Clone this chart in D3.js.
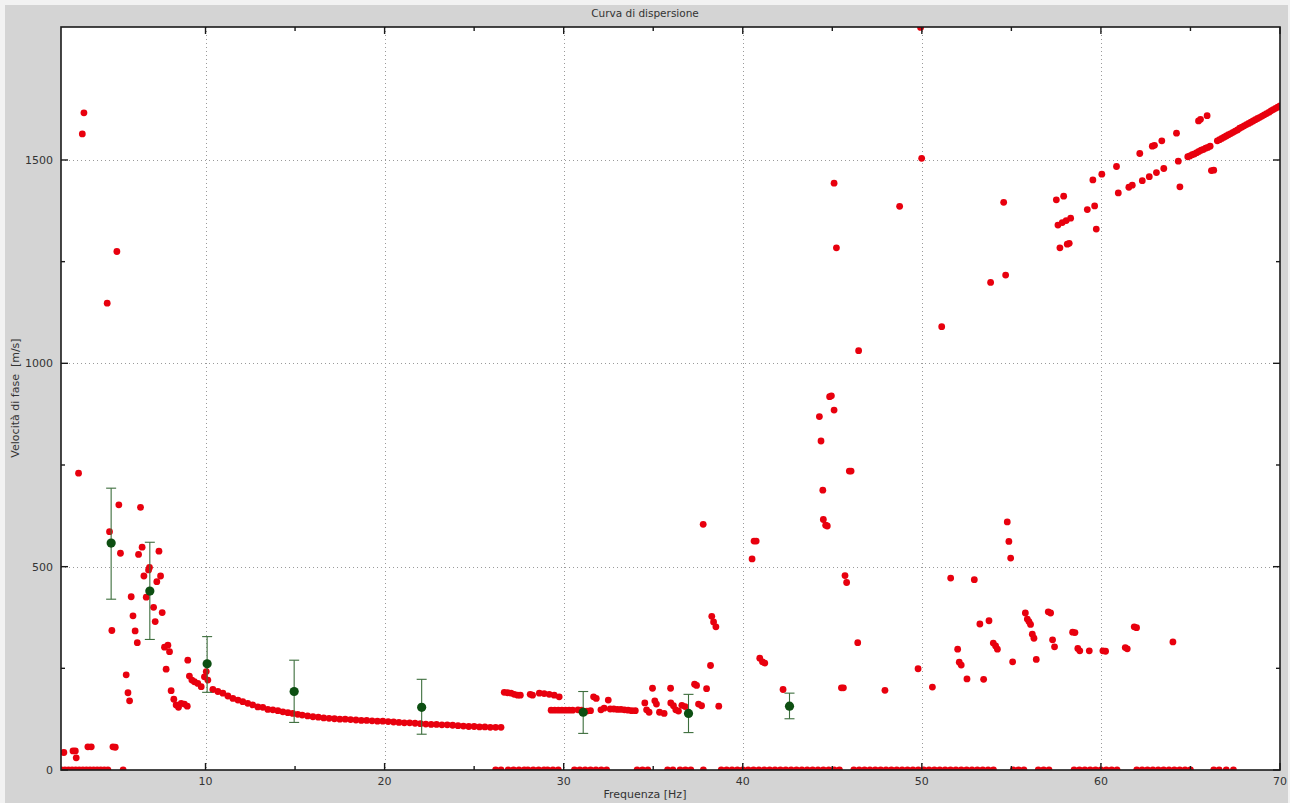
<!DOCTYPE html>
<html><head><meta charset="utf-8">
<script src="https://cdn.jsdelivr.net/npm/d3@7/dist/d3.min.js"></script>
<style>body{margin:0;background:#fff;overflow:hidden} text{white-space:pre}</style>
</head><body>
<svg id="c" width="1290" height="803"></svg>
<script>
// ---------------- DATA ----------------
const titleText = "Curva di dispersione";
const xLabelText = "Frequenza [Hz]";
const yLabelText = "Velocità di fase  [m/s]";
const xMajorTicks = [10, 20, 30, 40, 50, 60, 70];
const xMinorTicks = [15, 25, 35, 45, 55, 65];
const yMajorTicks = [0, 500, 1000, 1500];
const yMinorTicks = [250, 750, 1250];

// main branch (dense) frequency / velocity
const curveF = [10.41,10.69,10.97,11.25,11.53,11.81,12.08,12.36,12.64,12.92,13.20,13.48,13.76,14.04,14.32,14.60,14.87,15.15,15.4,15.7,16.0,16.3,16.6,16.9,17.2,17.5,17.8,18.1,18.4,18.7,19.0,19.3,19.6,19.9,20.2,20.5,20.8,21.1,21.4,21.7,22.0,22.3,22.6,22.9,23.2,23.5,23.8,24.1,24.4,24.7,25.0,25.3,25.6,25.9,26.2,26.5];
const curveV = [198,193,189,182,176,172,168,164,160,155,154,149,148,146,143,141,139,137,135,133,131,130,128,127,126,125,125,124,123,122,122,121,120,120,119,118,117,116,116,115,114,113,112,112,111,111,110,109,108,107,107,106,106,105,105,105];

// high branch at the right end
const lineF = [64.85,64.97,65.1,65.22,65.35,65.47,65.6,65.72,65.85,65.97,66.1,
 66.5,66.625,66.75,66.875,67.0,67.125,67.25,67.375,67.5,67.625,67.75,67.875,68.0,68.125,68.25,68.375,68.5,68.625,68.75,68.875,69.0,69.125,69.25,69.375,69.5,69.625,69.75,69.875,70.0];
const lineV = [1508,1510,1513,1515,1518,1521,1524,1526,1529,1531,1534,
 1547,1550,1553,1556,1559,1562,1565,1568,1571,1574,1578,1581,1584,1587,1590,1593,1596,1599,1602,1605,1608,1611,1614,1617,1621,1624,1627,1630,1633];

// scattered picks
const scatterF = [2.09,2.60,2.73,2.78,3.43,3.62,4.83,4.96,2.91,3.21,3.12,4.51,5.05,5.16,6.37,4.64,5.25,6.46,6.26,7.40,6.87,6.82,6.56,7.49,7.28,6.69,5.85,7.10,5.95,7.58,7.19,6.07,4.77,6.19,7.71,7.90,7.99,9.01,7.80,5.57,5.67,5.76,8.08,8.23,8.36,8.49,8.64,8.82,8.98,9.10,9.24,9.38,9.57,9.76,9.94,10.04,10.13,
 26.68,26.87,27.06,27.24,27.43,27.58,28.13,28.26,28.64,28.91,29.19,29.47,29.75,
 29.3,29.5,29.7,29.9,30.1,30.3,30.5,30.8,31.0,31.3,31.5,
 31.67,31.82,32.08,32.26,32.49,32.6,32.8,33.0,33.2,33.4,33.6,33.8,34.0,
 34.53,34.63,34.77,34.96,35.09,35.18,35.35,35.61,35.97,35.98,36.13,36.26,36.41,36.6,36.78,37.31,37.42,37.53,37.70,37.79,37.98,38.2,38.27,38.37,38.50,38.66,
 40.52,40.63,40.75,40.95,41.10,41.23,42.25,
 44.28,44.37,44.47,44.5,44.63,44.72,44.85,44.95,45.10,45.10,45.23,45.51,45.62,45.71,45.80,45.95,46.05,46.42,46.47,47.94,48.76,
 49.79,49.93,49.99,50.59,51.11,51.61,52.0,52.09,52.2,52.52,52.93,53.24,53.45,53.75,53.84,53.99,54.12,54.22,54.57,54.68,54.77,54.86,54.96,55.07,55.78,55.89,55.98,56.07,56.17,56.26,56.39,57.06,57.19,57.30,57.41,58.42,58.55,58.71,58.82,59.35,60.11,60.26,61.36,61.47,61.86,61.99,64.02,
 57.51,57.92,57.6,57.84,58.06,58.31,57.71,58.12,58.23,59.24,59.65,59.55,59.74,60.05,60.87,60.97,61.56,61.75,62.17,62.31,62.70,62.87,62.99,63.10,63.40,63.51,64.22,64.32,64.41,65.45,65.56,65.93,66.17,66.30];
const scatterV = [43,47,47,30,57,57,57,56,730,1616,1564,1148,1275,652,646,586,533,548,530,538,498,492,477,477,463,425,426,400,379,387,365,342,343,313,302,307,291,270,248,234,190,170,195,174,160,154,164,162,157,231,221,217,213,205,229,242,221,
 191,190,189,186,184,184,186,184,189,188,186,184,180,
 147,147,147,147,147,147,147,148,147,145,146,
 180,176,148,152,172,150,150,149,149,148,147,146,146,
 165,148,142,201,170,162,142,139,201,165,158,148,145,159,156,211,208,162,158,604,200,257,378,364,352,157,
 519,563,563,275,266,263,198,
 869,809,688,616,602,600,918,920,885,1443,1284,202,202,478,461,735,735,313,1031,196,1386,
 249,1826,1504,204,1090,472,297,265,258,224,468,359,223,367,1199,312,305,297,1396,1217,610,562,521,266,386,371,365,358,334,324,272,389,386,320,303,339,338,299,293,293,293,292,301,298,352,350,315,
 1402,1411,1340,1346,1351,1357,1284,1293,1295,1378,1387,1451,1330,1465,1484,1419,1433,1438,1516,1449,1459,1534,1536,1469,1547,1479,1566,1497,1434,1596,1600,1609,1474,1475];

// picks at zero velocity
const zeroF = [1.95,2.15,2.35,2.55,2.75,2.95,3.15,3.35,3.55,3.75,3.95,4.15,4.35,4.55,5.4,
 26.2,26.5,26.9,27.2,27.5,27.8,28.0,28.3,28.6,28.9,29.1,29.4,29.7,
 30.6,30.9,31.2,31.5,31.8,32.1,32.4,34.1,34.4,34.7,35.8,36.1,36.5,36.8,37.1,37.8,
 38.8,39.1,39.4,39.7,40.0,40.3,40.6,40.9,41.2,41.5,41.8,42.1,42.4,42.7,43.0,43.3,43.6,43.9,44.2,44.5,44.8,45.1,45.4,
 46.2,46.5,46.8,47.1,47.4,47.7,48.0,48.3,48.6,48.9,49.2,49.5,49.8,50.1,50.4,50.7,51.0,51.3,51.6,51.9,52.2,52.5,52.8,53.1,53.4,53.7,54.0,
 55.1,55.4,55.7,56.5,56.8,57.1,58.5,58.8,59.1,59.4,59.7,60.0,60.3,60.6,60.9,
 62.0,62.3,62.6,62.9,63.2,63.5,63.8,64.1,64.4,64.7,65.0,66.3,66.6,67.0,67.4];

// mean dispersion curve with error bars
const meanF = [4.73, 6.89, 10.09, 14.95, 22.07, 31.09, 36.97, 42.61];
const meanV = [558, 440, 261, 193, 154, 142, 139, 157];
const errHigh = [693, 560, 328, 270, 223, 193, 186, 189];
const errLow = [420, 321, 191, 117, 88, 90, 92, 126];

// ---------------- DRAW ----------------
const W = 1290, H = 803;
const L = 61, T = 27, R = 1280, B = 770;
const svg = d3.select("#c");
const font = "DejaVu Sans, Verdana, sans-serif";

svg.append("rect").attr("x",0).attr("y",0).attr("width",W).attr("height",H).attr("fill","#f2f2f2");
svg.append("rect").attr("x",5).attr("y",5).attr("width",W-7).attr("height",H-5).attr("fill","#d4d4d4");
svg.append("rect").attr("x",L).attr("y",T).attr("width",R-L).attr("height",B-T).attr("fill","#fff");

const x = d3.scaleLinear().domain([1.93, 70]).range([L, R]);
const y = d3.scaleLinear().domain([0, 1827]).range([B, T]);

// grid
const grid = svg.append("g").attr("stroke","#9a9a9a").attr("stroke-width",1).attr("stroke-dasharray","1,3");
grid.selectAll("line.gx").data(xMajorTicks.filter(d=>d<70)).enter().append("line")
  .attr("x1",d=>Math.round(x(d))+0.5).attr("x2",d=>Math.round(x(d))+0.5).attr("y1",T).attr("y2",B);
grid.selectAll("line.gy").data(yMajorTicks.filter(d=>d>0)).enter().append("line")
  .attr("y1",d=>Math.round(y(d))+0.5).attr("y2",d=>Math.round(y(d))+0.5).attr("x1",L).attr("x2",R);

// clip
svg.append("clipPath").attr("id","clip").append("rect").attr("x",L).attr("y",T).attr("width",R-L).attr("height",B-T);
const plot = svg.append("g").attr("clip-path","url(#clip)");

const red = "#e8000e";
const rr = 3.4;
const pts = [];
zeroF.forEach(f=>pts.push([f,0]));
curveF.forEach((f,i)=>pts.push([f,curveV[i]]));
lineF.forEach((f,i)=>pts.push([f,lineV[i]]));
scatterF.forEach((f,i)=>pts.push([f,scatterV[i]]));
plot.selectAll("circle.r").data(pts).enter().append("circle")
  .attr("cx",d=>x(d[0])).attr("cy",d=>y(d[1])).attr("r",rr).attr("fill",red);

// error bars
const eb = plot.append("g").attr("stroke","#3d6e3d").attr("stroke-width",1.1).attr("fill","none");
meanF.forEach((f,i)=>{
  const cx = x(f);
  eb.append("line").attr("x1",cx).attr("x2",cx).attr("y1",y(errHigh[i])).attr("y2",y(errLow[i]));
  eb.append("line").attr("x1",cx-5).attr("x2",cx+5).attr("y1",y(errHigh[i])).attr("y2",y(errHigh[i]));
  eb.append("line").attr("x1",cx-5).attr("x2",cx+5).attr("y1",y(errLow[i])).attr("y2",y(errLow[i]));
});
plot.selectAll("circle.g").data(meanF).enter().append("circle")
  .attr("cx",d=>x(d)).attr("cy",(d,i)=>y(meanV[i])).attr("r",4.6).attr("fill","#0d4f12");

// axes box
const ax = svg.append("g").attr("stroke","#1a1a1a").attr("fill","none");
ax.append("rect").attr("x",L).attr("y",T).attr("width",R-L).attr("height",B-T).attr("stroke-width",1.6);

// ticks (inward on all four sides)
const tk = svg.append("g").attr("stroke","#1a1a1a").attr("stroke-width",1.4);
xMajorTicks.concat(xMinorTicks).forEach(d=>{
  const len = xMajorTicks.includes(d) ? 7 : 4;
  const px = x(d);
  tk.append("line").attr("x1",px).attr("x2",px).attr("y1",B).attr("y2",B-len);
  tk.append("line").attr("x1",px).attr("x2",px).attr("y1",T).attr("y2",T+len);
});
yMajorTicks.concat(yMinorTicks).forEach(d=>{
  const len = yMajorTicks.includes(d) ? 7 : 4;
  const py = y(d);
  tk.append("line").attr("y1",py).attr("y2",py).attr("x1",L).attr("x2",L+len);
  tk.append("line").attr("y1",py).attr("y2",py).attr("x1",R).attr("x2",R-len);
});

// tick labels
svg.selectAll("text.xl").data(xMajorTicks).enter().append("text")
  .attr("x",d=>x(d)).attr("y",B+15).attr("text-anchor","middle")
  .attr("font-family",font).attr("font-size","11px").attr("fill","#333").text(d=>d);
svg.selectAll("text.yl").data(yMajorTicks).enter().append("text")
  .attr("x",L-8).attr("y",d=>y(d)+4).attr("text-anchor","end")
  .attr("font-family",font).attr("font-size","11px").attr("fill","#333").text(d=>d);

// titles
svg.append("text").attr("x",645).attr("y",17).attr("text-anchor","middle")
  .attr("font-family",font).attr("font-size","10.5px").attr("fill","#333").text(titleText);
svg.append("text").attr("x",645).attr("y",798).attr("text-anchor","middle")
  .attr("font-family",font).attr("font-size","11px").attr("fill","#333").text(xLabelText);
svg.append("text").attr("transform","translate(19,398) rotate(-90)").attr("text-anchor","middle")
  .attr("font-family",font).attr("font-size","11px").attr("fill","#333").text(yLabelText);
</script>
</body></html>
